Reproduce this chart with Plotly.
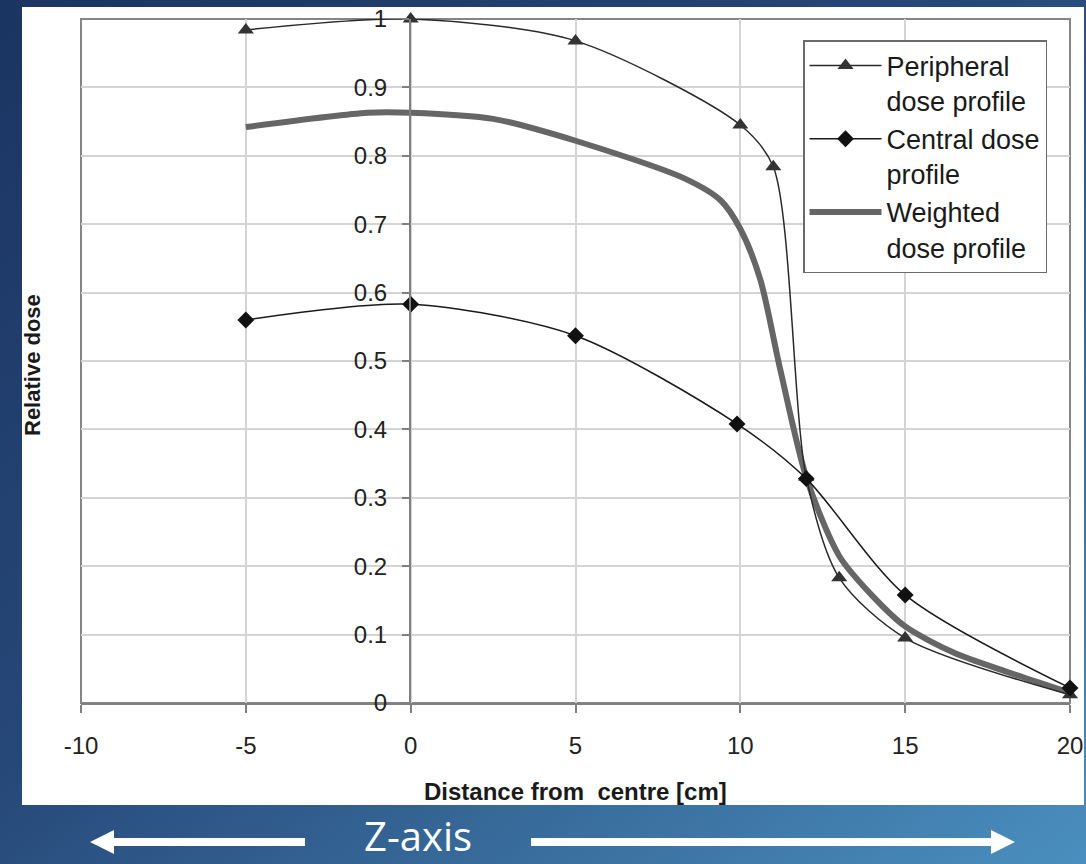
import base64
import plotly.graph_objects as go

# ---------------- data ----------------
peri_x = [-5, 0, 5, 10, 11, 12, 13, 15, 20]
peri_y = [0.984, 1.0, 0.968, 0.845, 0.784, 0.33, 0.183, 0.095, 0.012]

cent_x = [-5, 0, 5, 9.9, 12, 15, 20]
cent_y = [0.560, 0.583, 0.537, 0.408, 0.328, 0.158, 0.022]

wt_x = [-5, -1.3, 0, 2.5, 5, 8.3, 9.4, 10, 10.6, 11.2, 12, 13, 14, 15, 16.5, 18, 20]
wt_y = [0.842, 0.863, 0.863, 0.854, 0.822, 0.767, 0.735, 0.693, 0.62, 0.49, 0.33,
        0.215, 0.157, 0.112, 0.073, 0.047, 0.015]

x_ticks = [-10, -5, 0, 5, 10, 15, 20]
x_tick_text = ["-10", "-5", "0", "5", "10", "15", "20"]
y_ticks = [0, 0.1, 0.2, 0.3, 0.4, 0.5, 0.6, 0.7, 0.8, 0.9, 1]
y_tick_text = ["0", "0.1", "0.2", "0.3", "0.4", "0.5", "0.6", "0.7", "0.8", "0.9", "1"]

names = ["Peripheral<br>dose profile", "Central dose<br>profile", "Weighted<br>dose profile"]

# ---------------- layout geometry ----------------
W, H = 1086, 864
L, R, T, B = 81, 1070, 19, 703  # plot area in pixels


def px(xp):
    return (xp - L) / (R - L)


def py(yp):
    return (B - yp) / (B - T)


FONT = "Liberation Sans, Arial, sans-serif"

fig = go.Figure()

fig.add_trace(go.Scatter(
    x=wt_x, y=wt_y, mode="lines", name=names[2],
    line=dict(color="#666666", width=6, shape="spline", smoothing=0.8),
    legendrank=3,
))
fig.add_trace(go.Scatter(
    x=peri_x, y=peri_y, mode="lines+markers", name=names[0],
    line=dict(color="#2a2a2a", width=1.5, shape="spline", smoothing=0.8),
    marker=dict(symbol="triangle-up", size=14, color="#333333"),
    cliponaxis=False, legendrank=1,
))
fig.add_trace(go.Scatter(
    x=cent_x, y=cent_y, mode="lines+markers", name=names[1],
    line=dict(color="#1a1a1a", width=1.5, shape="spline", smoothing=0.8),
    marker=dict(symbol="diamond", size=13, color="#111111"),
    cliponaxis=False, legendrank=2,
))

# gradient background
svg = (
    f'<svg xmlns="http://www.w3.org/2000/svg" width="{W}" height="{H}" '
    f'viewBox="0 0 {W} {H}" preserveAspectRatio="none">'
    '<defs><linearGradient id="g" x1="0" y1="0" x2="1" y2="1">'
    '<stop offset="0" stop-color="#1b3462"/>'
    '<stop offset="0.45" stop-color="#264878"/>'
    '<stop offset="1" stop-color="#4a8fbf"/>'
    '</linearGradient></defs>'
    f'<rect width="{W}" height="{H}" fill="url(#g)"/></svg>'
)
src = "data:image/svg+xml;base64," + base64.b64encode(svg.encode()).decode()

shapes = [
    # white panel
    dict(type="rect", xref="paper", yref="paper", x0=px(22), x1=px(1084),
         y0=py(805), y1=py(7), fillcolor="white", line=dict(width=0), layer="below"),
    # plot frame
    dict(type="rect", xref="paper", yref="paper", x0=0, x1=1, y0=0, y1=1,
         line=dict(color="#858585", width=2), fillcolor="rgba(0,0,0,0)", layer="below"),
    # left arrow shaft + head
    dict(type="rect", xref="paper", yref="paper", x0=px(110), x1=px(305),
         y0=py(846), y1=py(838), fillcolor="white", line=dict(width=0)),
    dict(type="path", xref="paper", yref="paper",
         path=f"M {px(90)},{py(842)} L {px(114)},{py(830)} L {px(114)},{py(854)} Z",
         fillcolor="white", line=dict(width=0)),
    # right arrow shaft + head
    dict(type="rect", xref="paper", yref="paper", x0=px(531), x1=px(995),
         y0=py(846), y1=py(838), fillcolor="white", line=dict(width=0)),
    dict(type="path", xref="paper", yref="paper",
         path=f"M {px(1015)},{py(842)} L {px(991)},{py(830)} L {px(991)},{py(854)} Z",
         fillcolor="white", line=dict(width=0)),
]

annotations = [
    dict(text="<b>Distance from  centre [cm]</b>", xref="paper", yref="paper",
         x=px(575), y=py(791), showarrow=False, xanchor="center", yanchor="middle",
         font=dict(family=FONT, size=24, color="#1a1a1a")),
    dict(text="<b>Relative dose</b>", xref="paper", yref="paper",
         x=px(33), y=py(365), showarrow=False, textangle=-90,
         xanchor="center", yanchor="middle",
         font=dict(family=FONT, size=22, color="#1a1a1a")),
    dict(text="Z-axis", xref="paper", yref="paper",
         x=px(418), y=py(835), showarrow=False, xanchor="center", yanchor="middle",
         borderpad=0,
         font=dict(family="Open Sans, sans-serif", size=40, color="white")),
]

fig.update_layout(
    width=W, height=H,
    margin=dict(l=L, r=W - R, t=T, b=H - B, autoexpand=False),
    paper_bgcolor="#27497a",
    plot_bgcolor="rgba(0,0,0,0)",
    images=[dict(source=src, xref="paper", yref="paper", x=px(0), y=py(0),
                 sizex=W / (R - L), sizey=H / (B - T), xanchor="left", yanchor="top",
                 sizing="stretch", layer="below")],
    shapes=shapes,
    annotations=annotations,
    showlegend=True,
    legend=dict(
        x=px(803), y=py(40), xanchor="left", yanchor="top",
        bgcolor="white", bordercolor="#6a6a6a", borderwidth=1.5,
        font=dict(family=FONT, size=27, color="#1a1a1a"),
        valign="top", itemwidth=72, tracegroupgap=0,
    ),
    xaxis=dict(
        range=[-10, 20], tickvals=x_ticks, ticktext=x_tick_text,
        showgrid=True, gridcolor="#d4d4d4", gridwidth=1.5,
        zeroline=False, showline=True, linecolor="#808080", linewidth=2,
        ticks="outside", ticklen=8, tickcolor="#808080", tickwidth=1.5,
        ticklabelstandoff=12,
        tickfont=dict(family=FONT, size=24, color="#222222"),
    ),
    yaxis=dict(
        range=[0, 1], tickvals=y_ticks, ticktext=y_tick_text,
        showgrid=True, gridcolor="#d4d4d4", gridwidth=1.5,
        zeroline=False, showline=True, linecolor="#808080", linewidth=2,
        anchor="free", position=px(410),
        ticks="outside", ticklen=7, tickcolor="#808080", tickwidth=1.5,
        ticklabelstandoff=10,
        tickfont=dict(family=FONT, size=24, color="#222222"),
    ),
)

fig.write_html("out.html")
